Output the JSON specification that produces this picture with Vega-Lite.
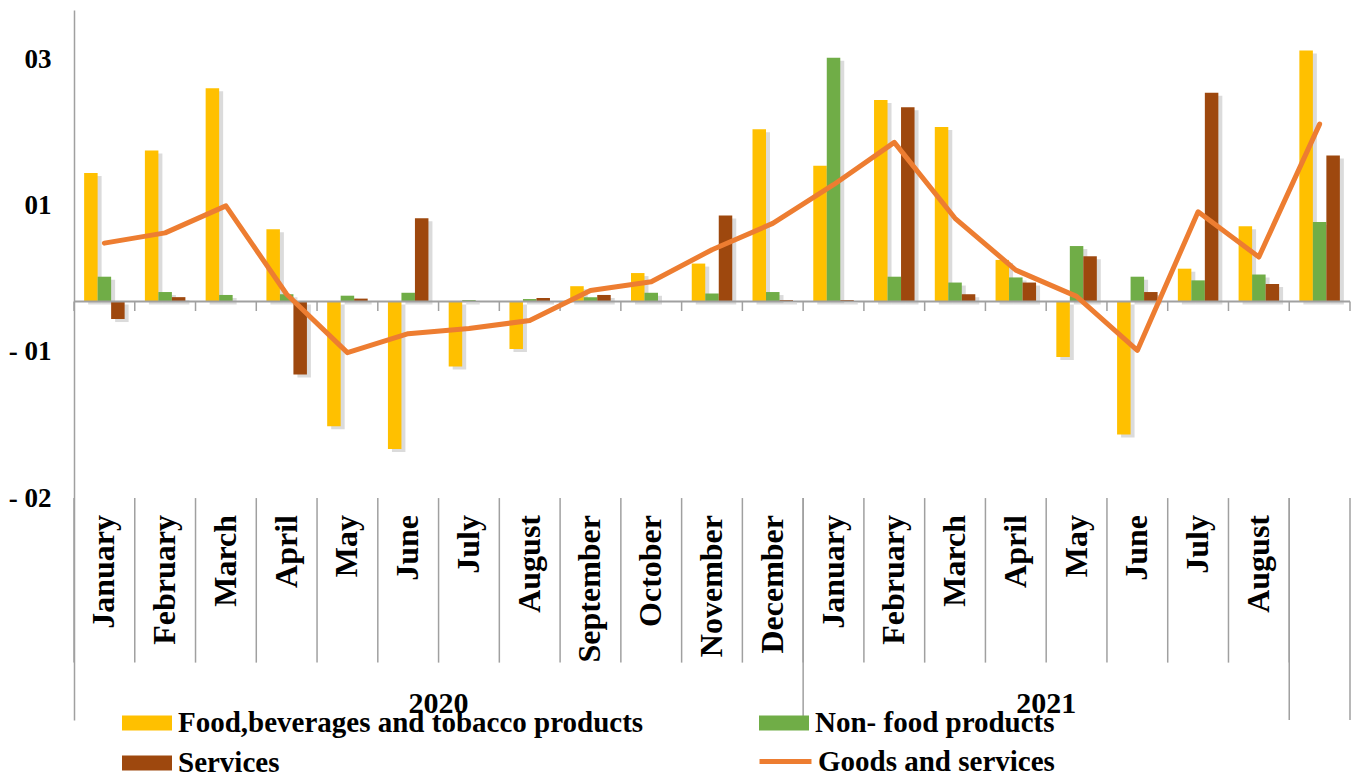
{
  "$schema": "https://vega.github.io/schema/vega-lite/v6.json",
  "width": 1276,
  "height": 710,
  "autosize": {"type": "none"},
  "padding": {"left": 74, "top": 10, "right": 5, "bottom": 56},
  "config": {"view": {"stroke": null}, "font": "Liberation Serif"},
  "resolve": {"scale": {"xOffset": "independent"}},
  "datasets": {
    "cpi": [
      {"m": "2020-01", "Food": 0.88, "NonFood": 0.17, "Services": -0.12, "Total": 0.40},
      {"m": "2020-02", "Food": 1.035, "NonFood": 0.065, "Services": 0.03, "Total": 0.47},
      {"m": "2020-03", "Food": 1.46, "NonFood": 0.045, "Services": 0.0, "Total": 0.655},
      {"m": "2020-04", "Food": 0.495, "NonFood": 0.05, "Services": -0.5, "Total": 0.05},
      {"m": "2020-05", "Food": -0.855, "NonFood": 0.04, "Services": 0.02, "Total": -0.35},
      {"m": "2020-06", "Food": -1.01, "NonFood": 0.06, "Services": 0.57, "Total": -0.22},
      {"m": "2020-07", "Food": -0.445, "NonFood": 0.01, "Services": 0.0, "Total": -0.185},
      {"m": "2020-08", "Food": -0.325, "NonFood": 0.017, "Services": 0.024, "Total": -0.13},
      {"m": "2020-09", "Food": 0.105, "NonFood": 0.03, "Services": 0.045, "Total": 0.075},
      {"m": "2020-10", "Food": 0.195, "NonFood": 0.06, "Services": 0.0, "Total": 0.135},
      {"m": "2020-11", "Food": 0.26, "NonFood": 0.055, "Services": 0.59, "Total": 0.355},
      {"m": "2020-12", "Food": 1.18, "NonFood": 0.065, "Services": 0.01, "Total": 0.535},
      {"m": "2021-01", "Food": 0.93, "NonFood": 1.67, "Services": 0.01, "Total": 0.80},
      {"m": "2021-02", "Food": 1.38, "NonFood": 0.17, "Services": 1.33, "Total": 1.09},
      {"m": "2021-03", "Food": 1.195, "NonFood": 0.13, "Services": 0.05, "Total": 0.57},
      {"m": "2021-04", "Food": 0.285, "NonFood": 0.165, "Services": 0.13, "Total": 0.215},
      {"m": "2021-05", "Food": -0.38, "NonFood": 0.38, "Services": 0.31, "Total": 0.035},
      {"m": "2021-06", "Food": -0.91, "NonFood": 0.17, "Services": 0.065, "Total": -0.335},
      {"m": "2021-07", "Food": 0.225, "NonFood": 0.145, "Services": 1.43, "Total": 0.615},
      {"m": "2021-08", "Food": 0.515, "NonFood": 0.185, "Services": 0.12, "Total": 0.305},
      {"m": "2021-09", "Food": 1.72, "NonFood": 0.545, "Services": 1.0, "Total": 1.215}
    ],
    "months": [
      {"m": "2020-01", "label": "January"},
      {"m": "2020-02", "label": "February"},
      {"m": "2020-03", "label": "March"},
      {"m": "2020-04", "label": "April"},
      {"m": "2020-05", "label": "May"},
      {"m": "2020-06", "label": "June"},
      {"m": "2020-07", "label": "July"},
      {"m": "2020-08", "label": "August"},
      {"m": "2020-09", "label": "September"},
      {"m": "2020-10", "label": "October"},
      {"m": "2020-11", "label": "November"},
      {"m": "2020-12", "label": "December"},
      {"m": "2021-01", "label": "January"},
      {"m": "2021-02", "label": "February"},
      {"m": "2021-03", "label": "March"},
      {"m": "2021-04", "label": "April"},
      {"m": "2021-05", "label": "May"},
      {"m": "2021-06", "label": "June"},
      {"m": "2021-07", "label": "July"},
      {"m": "2021-08", "label": "August"},
      {"m": "2021-09", "label": ""}
    ],
    "years": [
      {"m": "2020-07", "label": "2020"},
      {"m": "2021-05", "label": "2021"}
    ],
    "yearSeps": [{"m": "2021-01"}, {"m": "2021-09"}],
    "lastMonth": [{"m": "2021-09"}],
    "zero": [{"v": 0}]
  },
  "layer": [
    {
      "data": {"name": "cpi"},
      "transform": [{"fold": ["Food", "NonFood", "Services"], "as": ["s", "v"]}],
      "mark": {"type": "bar", "color": "#000000", "opacity": 0.14, "yOffset": 3},
      "encoding": {
        "x": {"field": "m", "type": "nominal", "axis": null, "scale": {"paddingInner": 0, "paddingOuter": 0}},
        "xOffset": {"field": "s", "type": "nominal", "scale": {"domain": ["Food", "NonFood", "Services"], "paddingOuter": 0.75, "paddingInner": 0, "range": [4, 64.76]}},
        "y": {
          "field": "v", "type": "quantitative",
          "scale": {"domain": [-2.866, 1.9966], "nice": false, "zero": false},
          "axis": {
            "title": null, "values": [1.66, 0.66, -0.34, -1.346],
            "labelExpr": "datum.value > 1 ? '03' : datum.value > 0 ? '01' : datum.value > -1 ? '- 01' : '- 02'",
            "grid": false, "ticks": false, "domainColor": "#a0a0a0", "domainWidth": 1.5,
            "labelFont": "Liberation Serif", "labelFontWeight": "bold", "labelFontSize": 27,
            "labelColor": "#000000", "labelPadding": 23, "labelBaseline": "middle"
          }
        }
      }
    },
    {
      "data": {"name": "cpi"},
      "transform": [{"fold": ["Food", "NonFood", "Services"], "as": ["s", "v"]}],
      "mark": {"type": "bar"},
      "encoding": {
        "x": {"field": "m", "type": "nominal", "axis": null},
        "xOffset": {"field": "s", "type": "nominal", "scale": {"domain": ["Food", "NonFood", "Services"], "paddingOuter": 0.75, "paddingInner": 0}},
        "y": {"field": "v", "type": "quantitative", "axis": {"title": null}},
        "color": {
          "field": "s", "type": "nominal",
          "scale": {"domain": ["Food", "NonFood", "Services"], "range": ["#FFC000", "#70AD47", "#9E480E"]},
          "legend": {
            "orient": "none", "legendX": 48, "legendY": 688, "columns": 2, "direction": "horizontal", "title": null,
            "symbolType": "M-1,-0.3H1V0.3H-1Z", "symbolSize": 2500, "symbolStrokeWidth": 0, "symbolOpacity": 1,
            "labelFont": "Liberation Serif", "labelFontWeight": "bold", "labelFontSize": 29, "labelColor": "#000000",
            "labelOffset": 6, "labelLimit": 700, "columnPadding": 115, "rowPadding": -17,
            "labelExpr": "datum.label == 'Food' ? 'Food,beverages and tobacco products' : datum.label == 'NonFood' ? 'Non- food products' : 'Services'"
          }
        }
      }
    },
    {
      "data": {"name": "zero"},
      "mark": {"type": "rule", "color": "#a0a0a0", "strokeWidth": 2},
      "encoding": {"y": {"field": "v", "type": "quantitative", "axis": {"title": null}}}
    },
    {
      "data": {"name": "months"},
      "mark": {"type": "rule", "color": "#a0a0a0", "strokeWidth": 1.5},
      "encoding": {
        "x": {"field": "m", "type": "nominal", "bandPosition": 0, "axis": null},
        "y": {"datum": 0},
        "y2": {"datum": -0.065}
      }
    },
    {
      "data": {"name": "months"},
      "mark": {"type": "rule", "color": "#a0a0a0", "strokeWidth": 1.5},
      "encoding": {
        "x": {"field": "m", "type": "nominal", "bandPosition": 0, "axis": null},
        "y": {"datum": -1.346},
        "y2": {"datum": -2.473}
      }
    },
    {
      "data": {"name": "yearSeps"},
      "mark": {"type": "rule", "color": "#a0a0a0", "strokeWidth": 1.5},
      "encoding": {
        "x": {"field": "m", "type": "nominal", "bandPosition": 0, "axis": null},
        "y": {"datum": -1.346},
        "y2": {"datum": -2.866}
      }
    },
    {
      "data": {"name": "lastMonth"},
      "mark": {"type": "rule", "color": "#a0a0a0", "strokeWidth": 1.5},
      "encoding": {
        "x": {"field": "m", "type": "nominal", "bandPosition": 1, "axis": null},
        "y": {"datum": -1.346},
        "y2": {"datum": -2.866}
      }
    },
    {
      "data": {"name": "lastMonth"},
      "mark": {"type": "rule", "color": "#a0a0a0", "strokeWidth": 1.5},
      "encoding": {
        "x": {"field": "m", "type": "nominal", "bandPosition": 1, "axis": null},
        "y": {"datum": 0},
        "y2": {"datum": -0.065}
      }
    },
    {
      "data": {"name": "cpi"},
      "mark": {"type": "line", "strokeWidth": 5, "strokeCap": "round", "strokeJoin": "round"},
      "encoding": {
        "x": {"field": "m", "type": "nominal", "axis": null},
        "y": {"field": "Total", "type": "quantitative", "axis": {"title": null}},
        "stroke": {
          "datum": "Goods and services",
          "scale": {"range": ["#ED7D31"]},
          "legend": {
            "orient": "none", "legendX": 683, "legendY": 723, "title": null,
            "symbolType": "stroke", "symbolSize": 2700, "symbolStrokeWidth": 5,
            "labelFont": "Liberation Serif", "labelFontWeight": "bold", "labelFontSize": 29, "labelColor": "#000000",
            "labelOffset": 4, "labelLimit": 700
          }
        }
      }
    },
    {
      "data": {"name": "months"},
      "mark": {"type": "text", "angle": 270, "align": "right", "baseline": "middle", "font": "Liberation Serif", "fontWeight": "bold", "fontSize": 32, "color": "#000000"},
      "encoding": {
        "x": {"field": "m", "type": "nominal", "axis": null},
        "y": {"datum": -1.462},
        "text": {"field": "label"}
      }
    },
    {
      "data": {"name": "years"},
      "mark": {"type": "text", "align": "center", "baseline": "alphabetic", "font": "Liberation Serif", "fontWeight": "bold", "fontSize": 30, "color": "#000000"},
      "encoding": {
        "x": {"field": "m", "type": "nominal", "bandPosition": 0, "axis": null},
        "y": {"datum": -2.82},
        "text": {"field": "label"}
      }
    }
  ]
}
